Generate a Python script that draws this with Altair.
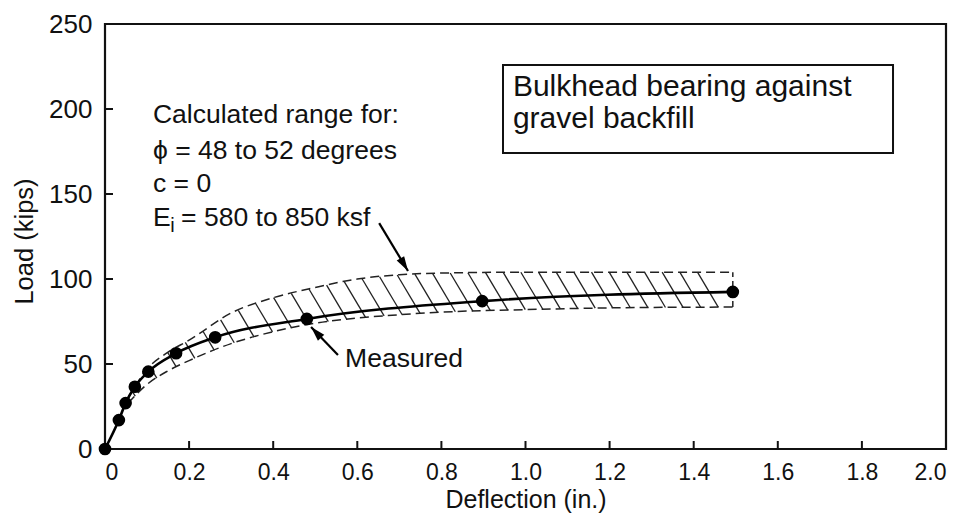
import altair as alt
import numpy as np
import pandas as pd

# Measured load-deflection response of the bulkhead
defl = [0.0, 0.033, 0.049, 0.071, 0.103, 0.169, 0.262, 0.48, 0.897, 1.493]
load = [0.0, 17.0, 27.0, 36.6, 45.5, 56.3, 65.7, 76.5, 87.0, 92.4]

# Calculated range envelope (lower / upper bound)
band_x = [0.055, 0.1, 0.15, 0.2, 0.3, 0.4, 0.5, 0.6, 0.7, 0.8, 1.0, 1.2, 1.493]
band_lo = [27.0, 38.0, 46.0, 52.0, 62.0, 69.0, 74.0, 77.0, 79.0, 80.5, 82.0, 83.0, 83.5]
band_hi = [30.0, 47.0, 57.0, 64.0, 80.0, 89.0, 95.0, 100.0, 102.5, 103.5, 104.0, 104.0, 104.0]

x_ticks = [0.0, 0.2, 0.4, 0.6, 0.8, 1.0, 1.2, 1.4, 1.6, 1.8, 2.0]
y_ticks = [0, 50, 100, 150, 200, 250]

# Annotation text (x, y in data units, left-aligned at baseline)
note_text = ["Calculated range for:", "\u03d5 = 48 to 52 degrees", "c = 0", "E", "= 580 to 850 ksf", "Measured"]
note_x = [0.114, 0.114, 0.114, 0.114, 0.181, 0.571]
note_y = [191.8, 170.6, 151.2, 131.2, 131.2, 48.2]

box_text = ["Bulkhead bearing against", "gravel backfill"]
box_text_x = [0.970, 0.970]
box_text_y = [207.6, 188.8]
box_x = [0.9465, 1.874]
box_y = [174.1, 225.9]

# Arrows: tail -> tip
arrow_x = [0.554, 0.652]
arrow_y = [55.3, 132.9]
arrow_x2 = [0.490, 0.7206]
arrow_y2 = [71.8, 104.7]
arrow_angle = [317, 149]

FONT = "Liberation Sans, DejaVu Sans"
W, H = 841, 425

xs = alt.Scale(domain=[0, 2], nice=False, zero=False)
ys = alt.Scale(domain=[0, 250], nice=False, zero=False)

# Hatching across the envelope: "\" strokes from the upper to the lower bound
HATCH_STEP = 0.042
HATCH_RUN = 0.0024  # horizontal run (in.) per kip of drop
rows = []
for x0 in np.arange(band_x[0] + 0.01, band_x[-1], HATCH_STEP):
    y0 = float(np.interp(x0, band_x, band_hi))
    x1 = x0
    for _ in range(5):
        x1 = x0 + HATCH_RUN * (y0 - float(np.interp(x1, band_x, band_lo)))
    if x1 > band_x[-1]:
        continue
    rows.append({"x": x0, "y": y0, "x2": x1, "y2": float(np.interp(x1, band_x, band_lo))})
hatch_df = pd.DataFrame(rows)

meas_df = pd.DataFrame({"d": defl, "p": load})
band_df = pd.DataFrame({"d": band_x, "lo": band_lo, "hi": band_hi})
notes_df = pd.DataFrame({"x": note_x, "y": note_y, "t": note_text})
box_df = pd.DataFrame({"x": [box_x[0]], "x2": [box_x[1]], "y": [box_y[0]], "y2": [box_y[1]]})
boxt_df = pd.DataFrame({"x": box_text_x, "y": box_text_y, "t": box_text})
arrow_df = pd.DataFrame({"x": arrow_x, "y": arrow_y, "x2": arrow_x2, "y2": arrow_y2, "a": arrow_angle})
xt_df = pd.DataFrame({"v": x_ticks})
yt_df = pd.DataFrame({"v": y_ticks})

x_axis = alt.Axis(
    values=x_ticks, ticks=False, tickSize=0, domain=False, grid=False,
    labelExpr="datum.value == 0 ? '0' : format(datum.value, '.1f')",
    labelFontSize=23, labelPadding=12, labelColor="#111", labelFont=FONT,
    title="Deflection (in.)", titleFontSize=25, titleFontWeight="normal", titleFont=FONT,
    titleColor="#111", titleY=50, titleBaseline="middle",
)
y_axis = alt.Axis(
    values=y_ticks, ticks=False, tickSize=0, domain=False, grid=False,
    labelFontSize=26, labelPadding=13, labelColor="#111", labelFont=FONT,
    title="Load (kips)", titleFontSize=25.5, titleFontWeight="normal", titleFont=FONT,
    titleColor="#111", titleX=-81, titleY=217, titleAngle=270,
    titleAlign="center", titleBaseline="middle",
)

base_axes = alt.Chart(meas_df).mark_point(opacity=0).encode(
    x=alt.X("d:Q", scale=xs, axis=x_axis),
    y=alt.Y("p:Q", scale=ys, axis=y_axis),
)

hatch = alt.Chart(hatch_df).mark_rule(color="#222", strokeWidth=1.3).encode(
    x=alt.X("x:Q", scale=xs), y=alt.Y("y:Q", scale=ys), x2="x2:Q", y2="y2:Q"
)
upper = alt.Chart(band_df).mark_line(color="#222", strokeWidth=1.5, strokeDash=[9, 5],
                                     interpolate="monotone").encode(
    x=alt.X("d:Q", scale=xs), y=alt.Y("hi:Q", scale=ys)
)
lower = alt.Chart(band_df).mark_line(color="#222", strokeWidth=1.5, strokeDash=[9, 5],
                                     interpolate="monotone").encode(
    x=alt.X("d:Q", scale=xs), y=alt.Y("lo:Q", scale=ys)
)
ends = alt.Chart(band_df.iloc[[-1]]).mark_rule(color="#222", strokeWidth=1.5, strokeDash=[6, 4]).encode(
    x=alt.X("d:Q", scale=xs), y=alt.Y("lo:Q", scale=ys), y2="hi:Q"
)

curve = alt.Chart(meas_df).mark_line(color="#000", strokeWidth=2.6, interpolate="monotone").encode(
    x=alt.X("d:Q", scale=xs), y=alt.Y("p:Q", scale=ys)
)
dots = alt.Chart(meas_df).mark_circle(color="#000", size=160, opacity=1).encode(
    x=alt.X("d:Q", scale=xs), y=alt.Y("p:Q", scale=ys)
)

arrow_shafts = alt.Chart(arrow_df).mark_rule(color="#000", strokeWidth=2.2).encode(
    x=alt.X("x:Q", scale=xs), y=alt.Y("y:Q", scale=ys), x2="x2:Q", y2="y2:Q"
)
arrow_heads = alt.Chart(arrow_df).mark_point(
    shape="M0,0 L-0.5,1.7 L0.5,1.7 Z", filled=True, color="#000", size=300, opacity=1
).encode(
    x=alt.X("x2:Q", scale=xs), y=alt.Y("y2:Q", scale=ys), angle=alt.Angle("a:Q", scale=None)
)

notes = alt.Chart(notes_df).mark_text(
    align="left", baseline="alphabetic", font=FONT, fontSize=26.5, color="#111"
).encode(x=alt.X("x:Q", scale=xs), y=alt.Y("y:Q", scale=ys), text="t:N")
sub_i = alt.Chart(pd.DataFrame({"x": [0.155], "y": [127.6], "t": ["i"]})).mark_text(
    align="left", baseline="alphabetic", font=FONT, fontSize=20, color="#111"
).encode(x=alt.X("x:Q", scale=xs), y=alt.Y("y:Q", scale=ys), text="t:N")

box = alt.Chart(box_df).mark_rect(fill="white", stroke="#111", strokeWidth=2).encode(
    x=alt.X("x:Q", scale=xs), x2="x2:Q", y=alt.Y("y:Q", scale=ys), y2="y2:Q"
)
box_label = alt.Chart(boxt_df).mark_text(
    align="left", baseline="alphabetic", font=FONT, fontSize=30, color="#111"
).encode(x=alt.X("x:Q", scale=xs), y=alt.Y("y:Q", scale=ys), text="t:N")

# inward tick marks
x_tick_marks = alt.Chart(xt_df).mark_rule(color="#111", strokeWidth=2).encode(
    x=alt.X("v:Q", scale=xs), y=alt.value(H), y2=alt.value(H - 8)
)
y_tick_marks = alt.Chart(yt_df).mark_rule(color="#111", strokeWidth=2).encode(
    y=alt.Y("v:Q", scale=ys), x=alt.value(0), x2=alt.value(8)
)

chart = alt.layer(
    base_axes, x_tick_marks, y_tick_marks, hatch, upper, lower, ends, curve, dots,
    arrow_shafts, arrow_heads, notes, sub_i, box, box_label,
).properties(
    width=W, height=H,
    autosize=alt.AutoSizeParams(type="none"),
    padding={"left": 105, "top": 24, "right": 975 - 105 - W, "bottom": 516 - 24 - H},
    background="white",
).configure_view(
    stroke="#111", strokeWidth=2.2
)

chart.save("out.html", embed_options={"renderer": "svg", "actions": False})
